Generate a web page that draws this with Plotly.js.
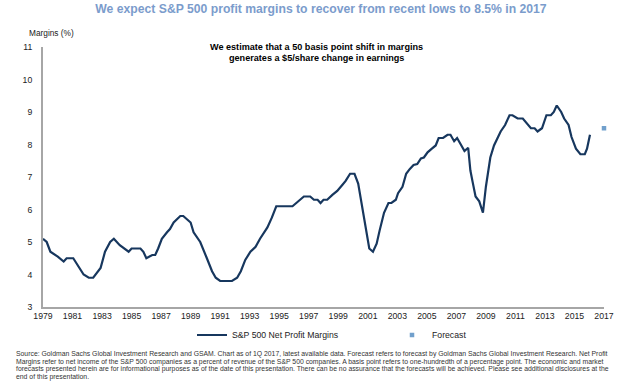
<!DOCTYPE html>
<html>
<head>
<meta charset="utf-8">
<script src="https://cdn.plot.ly/plotly-3.0.1.min.js"></script>
<style>
  html, body { margin: 0; padding: 0; background: #ffffff; }
  #chart { width: 628px; height: 385px; }
</style>
</head>
<body>
<div id="chart"></div>
<script>
// ---- Data ----
const years = [
  1979.0, 1979.25, 1979.5, 1980.0, 1980.4, 1980.6, 1981.05, 1981.5, 1981.75, 1982.1,
  1982.4, 1982.9, 1983.2, 1983.55, 1983.8, 1984.2, 1984.8, 1985.0, 1985.6, 1985.8,
  1986.0, 1986.4, 1986.6, 1986.8, 1987.05, 1987.4, 1987.6, 1987.85, 1988.3, 1988.5,
  1989.0, 1989.2, 1989.4, 1989.65, 1990.1, 1990.45, 1990.7, 1991.0, 1991.8, 1992.15,
  1992.4, 1992.7, 1993.05, 1993.4, 1993.7, 1994.2, 1994.5, 1994.8, 1995.9, 1996.45,
  1996.67, 1997.1, 1997.35, 1997.6, 1997.8, 1998.0, 1998.25, 1998.6, 1998.93, 1999.3,
  1999.5, 1999.8, 2000.1, 2000.35, 2000.65, 2000.9, 2001.1, 2001.35, 2001.6, 2001.8,
  2002.1, 2002.4, 2002.6, 2002.9, 2003.05, 2003.35, 2003.6, 2003.85, 2004.1, 2004.35,
  2004.6, 2004.8, 2005.05, 2005.3, 2005.6, 2005.8, 2006.1, 2006.4, 2006.6, 2006.85,
  2007.05, 2007.3, 2007.55, 2007.8, 2007.95, 2008.1, 2008.3, 2008.55, 2008.8, 2009.0,
  2009.3, 2009.55, 2009.8, 2010.0, 2010.3, 2010.6, 2010.8, 2011.15, 2011.5, 2011.85,
  2012.05, 2012.3, 2012.5, 2012.8, 2013.1, 2013.4, 2013.6, 2013.8, 2014.1, 2014.3,
  2014.6, 2014.8, 2015.1, 2015.4, 2015.7, 2015.85, 2016.05
];
const margins = [
  5.1, 5.0, 4.7, 4.55, 4.4, 4.5, 4.5, 4.15, 4.0, 3.9,
  3.9, 4.2, 4.7, 5.0, 5.1, 4.9, 4.7, 4.8, 4.8, 4.7,
  4.5, 4.6, 4.6, 4.8, 5.1, 5.3, 5.4, 5.6, 5.8, 5.8,
  5.6, 5.3, 5.15, 5.0, 4.5, 4.1, 3.9, 3.8, 3.8, 3.9,
  4.1, 4.45, 4.7, 4.85, 5.1, 5.45, 5.75, 6.1, 6.1, 6.33,
  6.4, 6.4, 6.3, 6.3, 6.2, 6.3, 6.3, 6.45, 6.57, 6.77,
  6.88, 7.1, 7.1, 6.8, 6.0, 5.4, 4.8, 4.7, 4.95, 5.35,
  5.9, 6.2, 6.2, 6.3, 6.5, 6.7, 7.1, 7.25, 7.37, 7.4,
  7.57, 7.6, 7.76, 7.86, 7.97, 8.2, 8.2, 8.3, 8.3, 8.1,
  8.2, 8.0, 7.8, 7.9, 7.2, 6.85, 6.4, 6.25, 5.9, 6.7,
  7.6, 7.97, 8.23, 8.4, 8.6, 8.9, 8.9, 8.8, 8.8, 8.6,
  8.5, 8.5, 8.4, 8.5, 8.9, 8.9, 9.0, 9.2, 9.0, 8.8,
  8.6, 8.23, 7.87, 7.7, 7.7, 7.87, 8.3
];
const forecastYears = [2017];
const forecastValues = [8.5];

const xTickVals = [1979, 1981, 1983, 1985, 1987, 1989, 1991, 1993, 1995, 1997,
                   1999, 2001, 2003, 2005, 2007, 2009, 2011, 2013, 2015, 2017];
const xTickText = xTickVals.map(String);
const yTickVals = [3, 4, 5, 6, 7, 8, 9, 10, 11];

const seriesNames = ["S&P 500 Net Profit Margins", "Forecast"];
const titleText = "We expect S&P 500 profit margins to recover from recent lows to 8.5% in 2017";
const noteLines = ["We estimate that a 50 basis point shift in margins",
                   "generates a $5/share change in earnings"];
const yAxisLabel = "Margins (%)";
const sourceLines = [
  "Source: Goldman Sachs Global Investment Research and GSAM. Chart as of 1Q 2017, latest available data. Forecast refers to forecast by Goldman Sachs Global Investment Research. Net Profit",
  "Margins refer to net income of the S&P 500 companies as a percent of revenue of the S&P 500 companies. A basis point refers to one-hundredth of a percentage point. The economic and market",
  "forecasts presented herein are for informational purposes as of the date of this presentation. There can be no assurance that the forecasts will be achieved. Please see additional disclosures at the",
  "end of this presentation."
];

// ---- Layout helpers ----
const W = 628, H = 385;
const M = { l: 43, r: 24, t: 47, b: 78, autoexpand: false };
const PW = W - M.l - M.r, PH = H - M.t - M.b;
const px = x => (x - M.l) / PW;          // pixel -> paper x
const py = y => (H - M.b - y) / PH;      // pixel -> paper y

const FONT = "Liberation Sans, Arial, Helvetica, sans-serif";
const TICK_SIZE = 8.7;

const traces = [
  {
    x: years, y: margins, type: "scatter", mode: "lines",
    name: seriesNames[0],
    line: { color: "#17375e", width: 2.2 },
    hoverinfo: "skip"
  },
  {
    x: forecastYears, y: forecastValues, type: "scatter", mode: "markers",
    name: seriesNames[1],
    marker: { symbol: "square", size: 4.5, color: "#71a0cc" },
    cliponaxis: false,
    hoverinfo: "skip"
  }
];

const annotations = [
  { text: yAxisLabel, xref: "paper", yref: "paper", x: px(27), y: py(33),
    xanchor: "left", yanchor: "middle", showarrow: false,
    font: { family: FONT, size: 8.3, color: "#222" } },
  { text: "<b>" + noteLines[0] + "</b>", xref: "paper", yref: "paper", x: px(316), y: py(47),
    xanchor: "center", yanchor: "middle", showarrow: false,
    font: { family: FONT, size: 9.1, color: "#000" } },
  { text: "<b>" + noteLines[1] + "</b>", xref: "paper", yref: "paper", x: px(316), y: py(58.5),
    xanchor: "center", yanchor: "middle", showarrow: false,
    font: { family: FONT, size: 9.1, color: "#000" } }
];
const srcY = [354, 361.7, 369.2, 376.8];
sourceLines.forEach((t, i) => {
  annotations.push({ text: t, xref: "paper", yref: "paper", x: px(13.5), y: py(srcY[i]),
    xanchor: "left", yanchor: "middle", showarrow: false,
    font: { family: FONT, size: 6.85, color: "#333" } });
});

const layout = {
  width: W, height: H,
  margin: M,
  paper_bgcolor: "#ffffff", plot_bgcolor: "#ffffff",
  font: { family: FONT, size: TICK_SIZE, color: "#222" },
  title: {
    text: "<b>" + titleText + "</b>",
    xref: "container", yref: "container",
    x: 321 / W, y: 1 - 8.5 / H, xanchor: "center", yanchor: "middle",
    font: { family: FONT, size: 12.2, color: "#7b9ccc" }
  },
  xaxis: {
    range: [1979, 2017], tickmode: "array", tickvals: xTickVals, ticktext: xTickText,
    showline: true, linecolor: "#a6a6a6", linewidth: 2,
    showgrid: false, zeroline: false, ticks: "",
    tickfont: { family: FONT, size: TICK_SIZE, color: "#222" }
  },
  yaxis: {
    range: [3, 11], tickmode: "array", tickvals: yTickVals,
    showline: true, linecolor: "#a6a6a6", linewidth: 2,
    showgrid: false, zeroline: false, ticks: "", ticklabelstandoff: 7,
    tickfont: { family: FONT, size: TICK_SIZE, color: "#222" }
  },
  showlegend: true,
  legend: {
    orientation: "h", xref: "paper", yref: "paper",
    x: px(192), y: py(335), xanchor: "left", yanchor: "middle",
    entrywidth: 155, entrywidthmode: "pixels", itemwidth: 30,
    font: { family: FONT, size: TICK_SIZE, color: "#222" },
    bgcolor: "rgba(0,0,0,0)", tracegroupgap: 0
  },
  annotations: annotations
};

Plotly.newPlot("chart", traces, layout, { staticPlot: true, displayModeBar: false });
</script>
</body>
</html>
